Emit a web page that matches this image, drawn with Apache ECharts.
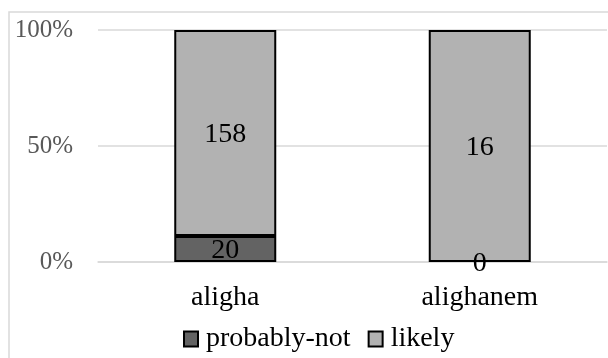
<!DOCTYPE html>
<html>
<head>
<meta charset="utf-8">
<script src="https://cdn.jsdelivr.net/npm/echarts@6/dist/echarts.min.js"></script>
<style>
html,body{margin:0;padding:0;background:#fff;}
#c{width:608px;height:358px;}
</style>
</head>
<body>
<div id="c"></div>
<script>
var categories = ["aligha", "alighanem"];
var probablyNot = [20, 0];
var likely = [158, 16];
var yTicks = ["0%", "50%", "100%"];

var totals = categories.map(function (c, i) { return probablyNot[i] + likely[i]; });
function pct(arr) {
  return arr.map(function (v, i) {
    return {
      value: v / totals[i] * 100,
      raw: v,
      itemStyle: { borderWidth: v === 0 ? 0 : 2 }
    };
  });
}

var FONT = "Liberation Serif";
var chart = echarts.init(document.getElementById('c'), null, { renderer: 'canvas' });
var labelCfg = {
  show: true,
  position: 'inside',
  offset: [0, 2],
  color: '#000',
  fontFamily: FONT,
  fontSize: 28,
  formatter: function (p) { return String(p.data.raw); }
};
chart.setOption({
  animation: false,
  backgroundColor: '#fff',
  graphic: [{
    type: 'rect',
    shape: { x: 9, y: 12, width: 700, height: 400 },
    style: { fill: 'none', stroke: '#d9d9d9', lineWidth: 1.5 },
    silent: true
  }],
  grid: { left: 98, right: 1, top: 30, bottom: 96, containLabel: false },
  legend: {
    data: ['probably-not', 'likely'],
    left: 183,
    top: 325,
    padding: 0,
    icon: 'rect',
    itemWidth: 14,
    itemHeight: 15,
    itemGap: 17,
    textStyle: { fontFamily: FONT, fontSize: 28, color: '#000', padding: [0, 0, 0, 3] }
  },
  xAxis: {
    type: 'category',
    data: categories,
    axisLine: { lineStyle: { color: '#d9d9d9', width: 1.5 } },
    axisTick: { show: false },
    axisLabel: { fontFamily: FONT, fontSize: 28, color: '#000', margin: 22 }
  },
  yAxis: {
    type: 'value',
    min: 0,
    max: 100,
    interval: 50,
    axisLine: { show: false },
    axisTick: { show: false },
    splitLine: { lineStyle: { color: '#d9d9d9', width: 1.5 } },
    axisLabel: {
      fontFamily: FONT, fontSize: 25, color: '#595959', margin: 25,
      formatter: function (v) { return yTicks[Math.round(v / 50)]; }
    }
  },
  series: [
    {
      name: 'probably-not',
      type: 'bar',
      stack: 'total',
      barWidth: 102,
      data: pct(probablyNot),
      itemStyle: { color: '#636363', borderColor: '#000', borderWidth: 2 },
      label: labelCfg
    },
    {
      name: 'likely',
      type: 'bar',
      stack: 'total',
      barWidth: 102,
      data: pct(likely),
      itemStyle: { color: '#b2b2b2', borderColor: '#000', borderWidth: 2 },
      label: labelCfg
    }
  ]
});
</script>
</body>
</html>
